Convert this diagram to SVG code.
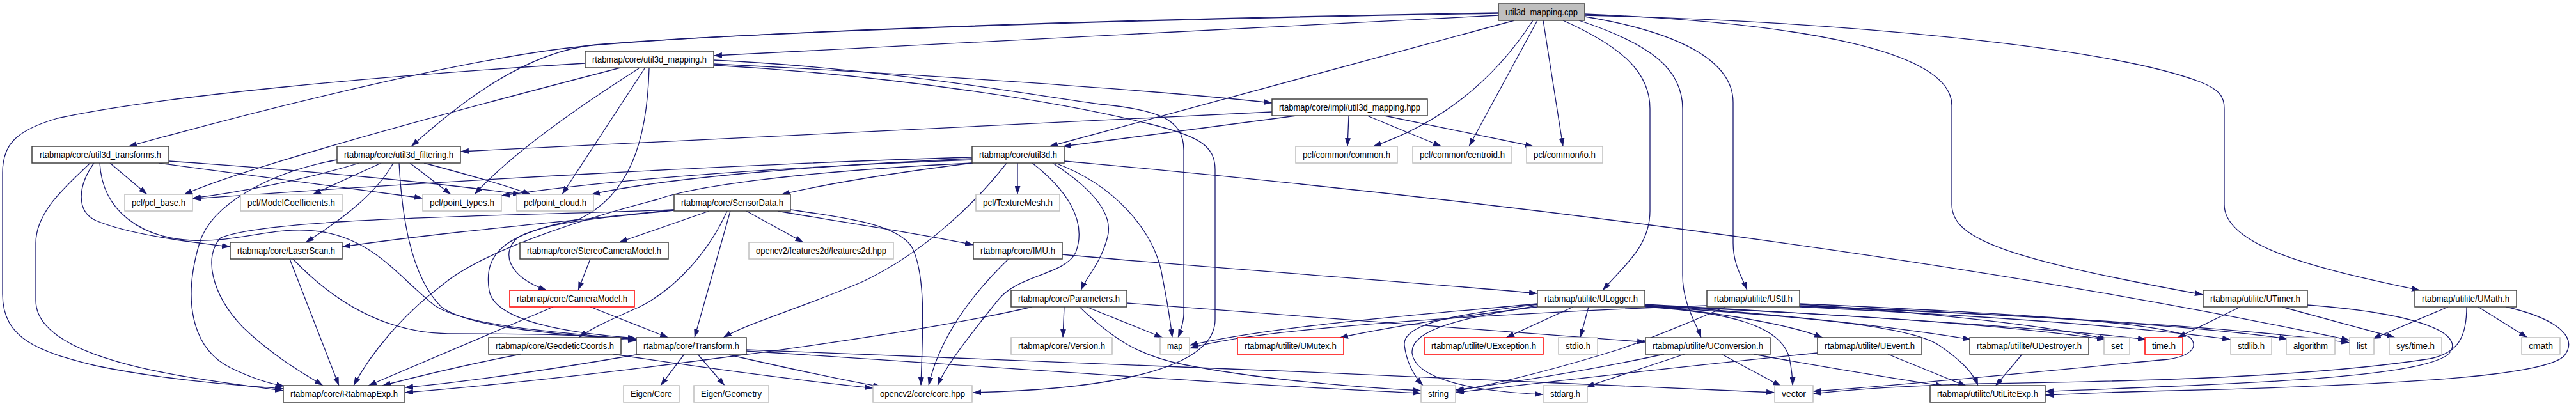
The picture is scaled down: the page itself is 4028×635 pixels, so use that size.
<svg xmlns="http://www.w3.org/2000/svg" width="4028" height="635" viewBox="0 0 4028 635">
<style>
.n rect{fill:#ffffff;stroke:#404040;stroke-width:1.5}
.g rect{fill:#ffffff;stroke:#bfbfbf;stroke-width:1.5}
.r rect{fill:#ffffff;stroke:#ff0000;stroke-width:1.5}
.root rect{fill:#bfbfbf;stroke:#404040;stroke-width:1.5}
text{font-family:"Liberation Sans",Arial,Helvetica,sans-serif;font-size:14px;text-anchor:middle;fill:#000000}
#edges path{fill:none;stroke:#191970;stroke-width:1.3;marker-end:url(#ah)}
</style>
<defs>
<marker id="ah" viewBox="0 0 13 9" refX="13" refY="4.5" markerWidth="13" markerHeight="9" markerUnits="userSpaceOnUse" orient="auto"><path d="M0,0 L13,4.5 L0,9 z" fill="#191970" stroke="none"/></marker>
</defs>
<rect x="0" y="0" width="4028" height="635" fill="#ffffff"/>
<g id="edges">
<path d="M2343,24 C1900,45 1500,67 1116,87"/>
<path d="M2343,20 C1600,32 1100,55 915,72 C750,88 450,160 201,229"/>
<path d="M2343,21 C1600,33 1100,56 930,70 C820,82 720,160 643,229"/>
<path d="M2368,32 L1641,229"/>
<path d="M2397,32 C2340,120 2260,190 2147,229"/>
<path d="M2404,32 L2297,229"/>
<path d="M2413,32 L2444,229"/>
<path d="M2444,32 C2540,75 2580,115 2580,170 L2580,330 C2580,385 2540,415 2506,454"/>
<path d="M2469,32 C2585,70 2631,110 2631,170 L2631,430 C2631,475 2652,505 2660,528"/>
<path d="M2478,26 C2625,50 2710,95 2710,160 L2710,380 C2710,415 2725,435 2732,454"/>
<path d="M2478,22 C2820,36 3052,80 3052,165 L3052,320 C3052,375 3140,405 3445,461"/>
<path d="M2478,24 C2900,34 3300,75 3440,128 C3470,140 3478,150 3478,170 L3478,320 C3478,385 3620,420 3784,454"/>
<path d="M915,99 C600,118 250,150 90,185 C20,205 4,230 4,270 L4,460 C4,530 60,550 150,572 C260,595 380,603 443,608"/>
<path d="M970,106 C800,150 400,255 288,304"/>
<path d="M999,107 C900,170 800,240 742,304"/>
<path d="M1008,107 L879,304"/>
<path d="M1015,107 C1012,220 985,305 905,343 C790,365 755,395 765,455 C775,505 900,522 995,529"/>
<path d="M1116,100 C1400,114 1800,140 1989,161"/>
<path d="M1116,94 C1400,108 1620,150 1720,163 C1810,172 1851,185 1851,235 L1851,490 C1851,505 1846,518 1842,528"/>
<path d="M1116,102 C1400,118 1660,160 1790,192 C1875,212 1900,228 1900,265 L1900,500 C1900,595 1650,611 1521,614"/>
<path d="M2109,181 L2107,229"/>
<path d="M2138,181 L2254,229"/>
<path d="M2165,181 L2398,229"/>
<path d="M1989,175 L720,237"/>
<path d="M2027,181 L1662,229"/>
<path d="M172,255 L230,304"/>
<path d="M248,255 C400,275 550,295 661,310"/>
<path d="M264,252 C500,268 700,288 815,304"/>
<path d="M147,255 C122,290 118,330 150,345 C200,366 290,378 360,386"/>
<path d="M156,255 C160,330 220,372 300,376 C380,379 430,352 500,362 C585,374 625,435 680,478 C730,512 900,522 995,531"/>
<path d="M141,255 C105,290 56,330 56,380 L56,470 C56,565 300,592 443,611"/>
<path d="M527,250 C420,270 330,320 312,380 C285,470 300,545 360,575 C395,592 420,600 445,604"/>
<path d="M562,255 C480,280 380,300 301,310"/>
<path d="M596,255 L489,304"/>
<path d="M615,255 C590,300 540,340 478,379"/>
<path d="M624,255 C628,330 640,430 690,480 C740,517 900,523 995,533"/>
<path d="M641,255 L705,304"/>
<path d="M663,255 C720,270 790,290 830,304"/>
<path d="M1520,246 C1200,255 700,282 301,311"/>
<path d="M1520,248 C1300,258 1050,276 925,304"/>
<path d="M1520,250 C1200,262 950,282 784,306"/>
<path d="M1520,255 C1400,270 1300,286 1222,304"/>
<path d="M1522,255 C1250,268 1080,292 1028,312 C900,345 750,395 690,447 C630,492 580,552 553,603"/>
<path d="M1591,255 L1591,304"/>
<path d="M1574,255 C1530,312 1450,392 1350,440 C1250,483 1170,505 1131,528"/>
<path d="M1614,255 C1662,292 1702,342 1682,395 C1665,430 1590,430 1560,470 C1520,520 1480,570 1466,603"/>
<path d="M1646,255 C1700,290 1742,330 1732,370 C1722,410 1700,432 1690,454"/>
<path d="M1650,255 C1745,290 1800,360 1815,420 C1825,470 1830,500 1833,528"/>
<path d="M1664,252 C2200,300 3000,390 3674,532"/>
<path d="M1054,328 C900,345 700,362 535,386"/>
<path d="M1054,328 C800,338 420,340 345,372 C318,400 330,460 380,512 C430,560 480,587 505,603"/>
<path d="M1054,329 C950,340 860,346 812,370 C782,392 792,432 855,454"/>
<path d="M1109,330 L968,379"/>
<path d="M1137,330 C1110,390 1060,450 1000,480 C950,502 922,515 905,528"/>
<path d="M1142,330 L1086,528"/>
<path d="M1167,330 L1256,379"/>
<path d="M1216,330 C1300,345 1420,362 1522,383"/>
<path d="M1236,328 C1320,340 1400,350 1425,385 C1450,430 1442,530 1440,603"/>
<path d="M923,405 L904,454"/>
<path d="M923,480 L1045,528"/>
<path d="M865,480 L576,603"/>
<path d="M814,554 C720,572 660,587 598,603"/>
<path d="M959,554 C1100,575 1250,595 1365,607"/>
<path d="M1000,554 C850,580 720,598 633,606"/>
<path d="M1070,554 L1033,603"/>
<path d="M1091,554 L1133,603"/>
<path d="M1140,555 C1250,580 1320,595 1378,605"/>
<path d="M1167,547 C1600,565 2300,590 2775,614"/>
<path d="M1167,549 C1500,570 1900,600 2222,615"/>
<path d="M1664,480 L1662,528"/>
<path d="M1699,480 L1818,528"/>
<path d="M1688,480 C1740,530 1780,556 1850,570 C1950,590 2100,605 2222,611"/>
<path d="M1762,474 C2100,500 2400,520 2573,535"/>
<path d="M1614,480 C1400,530 900,592 633,614"/>
<path d="M1577,405 C1520,460 1470,525 1452,603"/>
<path d="M1661,398 C1900,420 2200,440 2404,459"/>
<path d="M453,405 L530,603"/>
<path d="M458,405 C520,470 600,520 700,522 C800,522 900,522 995,531"/>
<path d="M2404,480 C2280,495 2170,512 2095,528"/>
<path d="M2460,480 L2355,528"/>
<path d="M2484,480 L2471,528"/>
<path d="M2404,476 C2300,490 2192,502 2196,540 C2200,572 2215,592 2225,603"/>
<path d="M2404,478 C2300,496 2205,512 2208,552 C2212,592 2300,612 2413,617"/>
<path d="M2404,475 C2250,490 2000,508 1860,540"/>
<path d="M2669,478 C2450,486 1980,508 1860,545"/>
<path d="M2572,478 C2900,492 3150,510 3292,531"/>
<path d="M2572,476 C2900,494 3220,514 3356,531"/>
<path d="M2572,478 C2720,492 2810,512 2850,528"/>
<path d="M2572,477 C2800,492 2980,514 3082,531"/>
<path d="M2572,479 C2800,494 2985,508 3032,540 C3070,566 3086,585 3093,603"/>
<path d="M2572,480 C2700,488 2785,508 2798,560 C2802,580 2803,592 2803,603"/>
<path d="M2698,480 C2640,505 2580,530 2530,547 C2440,575 2350,598 2276,612"/>
<path d="M2814,476 C3000,488 3200,508 3296,531"/>
<path d="M2814,478 C3200,494 3500,512 3674,536"/>
<path d="M2814,479 C3200,494 3450,512 3577,530"/>
<path d="M2814,480 C3100,494 3350,512 3488,531"/>
<path d="M2814,475 C3100,488 3380,502 3425,528 C3440,545 3420,558 3390,562 C3200,580 2950,605 2835,612"/>
<path d="M2602,554 C2500,576 2380,596 2276,610"/>
<path d="M2634,554 L2480,605"/>
<path d="M2692,554 L2785,604"/>
<path d="M2742,554 C2850,574 2950,590 3040,604"/>
<path d="M2952,554 L3075,604"/>
<path d="M2842,552 C2600,576 2400,600 2276,614"/>
<path d="M3162,554 L3120,604"/>
<path d="M3503,480 L3405,528"/>
<path d="M3568,480 L3745,528"/>
<path d="M3608,477 C3780,490 3850,520 3832,550 C3815,575 3700,592 3400,604 C3300,608 3250,611 3198,612"/>
<path d="M3828,480 L3710,530"/>
<path d="M3875,480 L3952,528"/>
<path d="M3857,480 C3857,530 3842,552 3800,561 C3600,592 3300,597 3100,600 C2990,603 2900,608 2835,616"/>
<path d="M3919,480 C4005,500 4030,530 4010,556 C3985,585 3800,601 3400,611 C3300,613 3250,616 3198,618"/>
</g>
<g id="n0" class="root"><rect x="2343" y="6" width="135" height="26"/><text x="2410.5" y="24" textLength="113" lengthAdjust="spacingAndGlyphs">util3d_mapping.cpp</text></g>
<g id="n1" class="n"><rect x="915" y="80" width="201" height="26"/><text x="1015.5" y="98" textLength="179" lengthAdjust="spacingAndGlyphs">rtabmap/core/util3d_mapping.h</text></g>
<g id="n2" class="n"><rect x="1989" y="155" width="243" height="26"/><text x="2110.5" y="173" textLength="221" lengthAdjust="spacingAndGlyphs">rtabmap/core/impl/util3d_mapping.hpp</text></g>
<g id="n3" class="n"><rect x="50" y="229" width="214" height="26"/><text x="157" y="247" textLength="190" lengthAdjust="spacingAndGlyphs">rtabmap/core/util3d_transforms.h</text></g>
<g id="n4" class="n"><rect x="527" y="229" width="193" height="26"/><text x="623.5" y="247" textLength="171" lengthAdjust="spacingAndGlyphs">rtabmap/core/util3d_filtering.h</text></g>
<g id="n5" class="n"><rect x="1520" y="229" width="144" height="26"/><text x="1592" y="247" textLength="122" lengthAdjust="spacingAndGlyphs">rtabmap/core/util3d.h</text></g>
<g id="n6" class="g"><rect x="2026" y="229" width="159" height="26"/><text x="2105.5" y="247" textLength="137" lengthAdjust="spacingAndGlyphs">pcl/common/common.h</text></g>
<g id="n7" class="g"><rect x="2209" y="229" width="155" height="26"/><text x="2286.5" y="247" textLength="133" lengthAdjust="spacingAndGlyphs">pcl/common/centroid.h</text></g>
<g id="n8" class="g"><rect x="2387" y="229" width="119" height="26"/><text x="2446.5" y="247" textLength="97" lengthAdjust="spacingAndGlyphs">pcl/common/io.h</text></g>
<g id="n9" class="g"><rect x="195" y="304" width="106" height="26"/><text x="248" y="322" textLength="84" lengthAdjust="spacingAndGlyphs">pcl/pcl_base.h</text></g>
<g id="n10" class="g"><rect x="376" y="304" width="159" height="26"/><text x="455.5" y="322" textLength="137" lengthAdjust="spacingAndGlyphs">pcl/ModelCoefficients.h</text></g>
<g id="n11" class="g"><rect x="661" y="304" width="123" height="26"/><text x="722.5" y="322" textLength="101" lengthAdjust="spacingAndGlyphs">pcl/point_types.h</text></g>
<g id="n12" class="g"><rect x="808" y="304" width="120" height="26"/><text x="868" y="322" textLength="98" lengthAdjust="spacingAndGlyphs">pcl/point_cloud.h</text></g>
<g id="n13" class="n"><rect x="1054" y="304" width="182" height="26"/><text x="1145" y="322" textLength="160" lengthAdjust="spacingAndGlyphs">rtabmap/core/SensorData.h</text></g>
<g id="n14" class="g"><rect x="1526" y="304" width="131" height="26"/><text x="1591.5" y="322" textLength="109" lengthAdjust="spacingAndGlyphs">pcl/TextureMesh.h</text></g>
<g id="n15" class="n"><rect x="360" y="379" width="175" height="26"/><text x="447.5" y="397" textLength="153" lengthAdjust="spacingAndGlyphs">rtabmap/core/LaserScan.h</text></g>
<g id="n16" class="n"><rect x="813" y="379" width="232" height="26"/><text x="929" y="397" textLength="210" lengthAdjust="spacingAndGlyphs">rtabmap/core/StereoCameraModel.h</text></g>
<g id="n17" class="g"><rect x="1171" y="379" width="226" height="26"/><text x="1284" y="397" textLength="204" lengthAdjust="spacingAndGlyphs">opencv2/features2d/features2d.hpp</text></g>
<g id="n18" class="n"><rect x="1522" y="379" width="139" height="26"/><text x="1591.5" y="397" textLength="117" lengthAdjust="spacingAndGlyphs">rtabmap/core/IMU.h</text></g>
<g id="n19" class="r"><rect x="797" y="454" width="195" height="26"/><text x="894.5" y="472" textLength="173" lengthAdjust="spacingAndGlyphs">rtabmap/core/CameraModel.h</text></g>
<g id="n20" class="n"><rect x="1581" y="454" width="181" height="26"/><text x="1671.5" y="472" textLength="159" lengthAdjust="spacingAndGlyphs">rtabmap/core/Parameters.h</text></g>
<g id="n21" class="n"><rect x="2404" y="454" width="168" height="26"/><text x="2488" y="472" textLength="146" lengthAdjust="spacingAndGlyphs">rtabmap/utilite/ULogger.h</text></g>
<g id="n22" class="n"><rect x="2669" y="454" width="145" height="26"/><text x="2741.5" y="472" textLength="123" lengthAdjust="spacingAndGlyphs">rtabmap/utilite/UStl.h</text></g>
<g id="n23" class="n"><rect x="3445" y="454" width="163" height="26"/><text x="3526.5" y="472" textLength="141" lengthAdjust="spacingAndGlyphs">rtabmap/utilite/UTimer.h</text></g>
<g id="n24" class="n"><rect x="3776" y="454" width="159" height="26"/><text x="3855.5" y="472" textLength="137" lengthAdjust="spacingAndGlyphs">rtabmap/utilite/UMath.h</text></g>
<g id="n25" class="n"><rect x="764" y="528" width="207" height="26"/><text x="867.5" y="546" textLength="185" lengthAdjust="spacingAndGlyphs">rtabmap/core/GeodeticCoords.h</text></g>
<g id="n26" class="n"><rect x="995" y="528" width="172" height="26"/><text x="1081" y="546" textLength="150" lengthAdjust="spacingAndGlyphs">rtabmap/core/Transform.h</text></g>
<g id="n27" class="g"><rect x="1581" y="528" width="158" height="26"/><text x="1660" y="546" textLength="136" lengthAdjust="spacingAndGlyphs">rtabmap/core/Version.h</text></g>
<g id="n28" class="g"><rect x="1814" y="528" width="46" height="26"/><text x="1837" y="546" textLength="24" lengthAdjust="spacingAndGlyphs">map</text></g>
<g id="n29" class="r"><rect x="1935" y="528" width="166" height="26"/><text x="2018" y="546" textLength="144" lengthAdjust="spacingAndGlyphs">rtabmap/utilite/UMutex.h</text></g>
<g id="n30" class="r"><rect x="2227" y="528" width="186" height="26"/><text x="2320" y="546" textLength="164" lengthAdjust="spacingAndGlyphs">rtabmap/utilite/UException.h</text></g>
<g id="n31" class="g"><rect x="2437" y="528" width="61" height="26"/><text x="2467.5" y="546" textLength="39" lengthAdjust="spacingAndGlyphs">stdio.h</text></g>
<g id="n32" class="n"><rect x="2573" y="528" width="195" height="26"/><text x="2670.5" y="546" textLength="173" lengthAdjust="spacingAndGlyphs">rtabmap/utilite/UConversion.h</text></g>
<g id="n33" class="n"><rect x="2842" y="528" width="163" height="26"/><text x="2923.5" y="546" textLength="141" lengthAdjust="spacingAndGlyphs">rtabmap/utilite/UEvent.h</text></g>
<g id="n34" class="n"><rect x="3080" y="528" width="186" height="26"/><text x="3173" y="546" textLength="164" lengthAdjust="spacingAndGlyphs">rtabmap/utilite/UDestroyer.h</text></g>
<g id="n35" class="g"><rect x="3290" y="528" width="40" height="26"/><text x="3310" y="546" textLength="18" lengthAdjust="spacingAndGlyphs">set</text></g>
<g id="n36" class="r"><rect x="3354" y="528" width="59" height="26"/><text x="3383.5" y="546" textLength="37" lengthAdjust="spacingAndGlyphs">time.h</text></g>
<g id="n37" class="g"><rect x="3488" y="528" width="64" height="26"/><text x="3520" y="546" textLength="42" lengthAdjust="spacingAndGlyphs">stdlib.h</text></g>
<g id="n38" class="g"><rect x="3575" y="528" width="76" height="26"/><text x="3613" y="546" textLength="54" lengthAdjust="spacingAndGlyphs">algorithm</text></g>
<g id="n39" class="g"><rect x="3674" y="528" width="38" height="26"/><text x="3693" y="546" textLength="16" lengthAdjust="spacingAndGlyphs">list</text></g>
<g id="n40" class="g"><rect x="3736" y="528" width="82" height="26"/><text x="3777" y="546" textLength="60" lengthAdjust="spacingAndGlyphs">sys/time.h</text></g>
<g id="n41" class="g"><rect x="3943" y="528" width="60" height="26"/><text x="3973" y="546" textLength="38" lengthAdjust="spacingAndGlyphs">cmath</text></g>
<g id="n42" class="n"><rect x="443" y="603" width="190" height="26"/><text x="538" y="621" textLength="168" lengthAdjust="spacingAndGlyphs">rtabmap/core/RtabmapExp.h</text></g>
<g id="n43" class="g"><rect x="975" y="603" width="87" height="26"/><text x="1018.5" y="621" textLength="65" lengthAdjust="spacingAndGlyphs">Eigen/Core</text></g>
<g id="n44" class="g"><rect x="1085" y="603" width="117" height="26"/><text x="1143.5" y="621" textLength="95" lengthAdjust="spacingAndGlyphs">Eigen/Geometry</text></g>
<g id="n45" class="g"><rect x="1365" y="603" width="155" height="26"/><text x="1442.5" y="621" textLength="133" lengthAdjust="spacingAndGlyphs">opencv2/core/core.hpp</text></g>
<g id="n46" class="g"><rect x="2222" y="603" width="54" height="26"/><text x="2249" y="621" textLength="32" lengthAdjust="spacingAndGlyphs">string</text></g>
<g id="n47" class="g"><rect x="2413" y="603" width="69" height="26"/><text x="2447.5" y="621" textLength="47" lengthAdjust="spacingAndGlyphs">stdarg.h</text></g>
<g id="n48" class="g"><rect x="2775" y="603" width="60" height="26"/><text x="2805" y="621" textLength="38" lengthAdjust="spacingAndGlyphs">vector</text></g>
<g id="n49" class="n"><rect x="3018" y="603" width="180" height="26"/><text x="3108" y="621" textLength="158" lengthAdjust="spacingAndGlyphs">rtabmap/utilite/UtiLiteExp.h</text></g>
</svg>
